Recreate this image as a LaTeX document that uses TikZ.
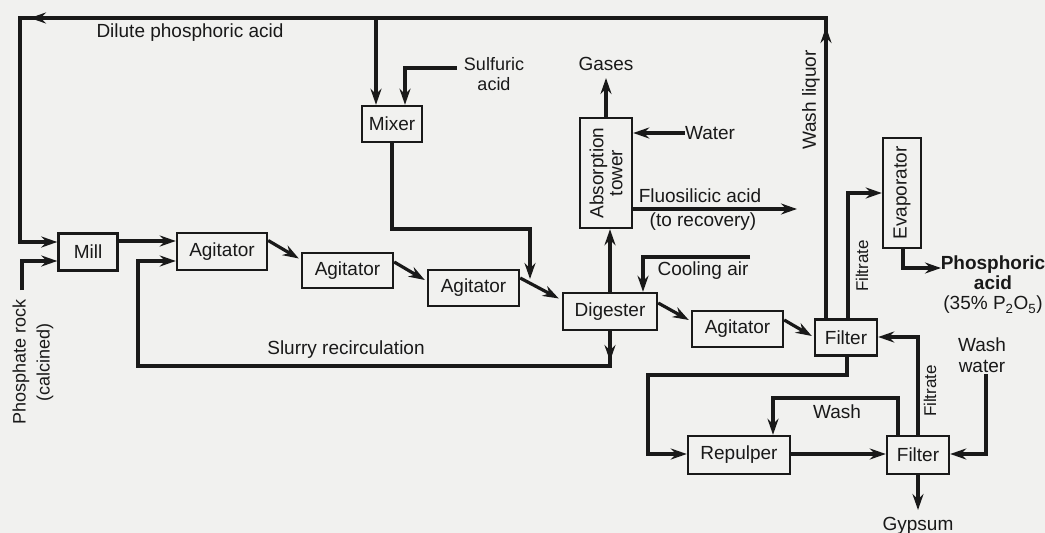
\documentclass[tikz,border=0pt]{standalone}
\usepackage{fontspec}
\setmainfont{Liberation Sans}
\usetikzlibrary{arrows.meta,calc}
\definecolor{bg}{RGB}{241,241,239}
\definecolor{ink}{RGB}{25,25,25}
\begin{document}
\begin{tikzpicture}[x=1pt,y=-1pt,
  font=\fontsize{19}{21}\selectfont,
  box/.style={draw=ink,line width=2.4pt,inner sep=0pt,text=ink},
  ln/.style={draw=ink,line width=3.2pt},
  arr/.style={ln,-{Stealth[length=16pt,width=11pt]}},
  lbl/.style={text=ink,inner sep=0pt,align=center}]
\fill[bg] (0,0) rectangle (1045,533);
\useasboundingbox (0,0) rectangle (1045,533);
% boxes
\node[box,minimum width=59pt,minimum height=37pt] (mill) at (88,252) {Mill};
\node[box,minimum width=90pt,minimum height=37pt] (ag1) at (222,251.5) {Agitator};
\node[box,minimum width=91pt,minimum height=35pt] (ag2) at (347.5,270.5) {Agitator};
\node[box,minimum width=91pt,minimum height=36pt] (ag3) at (473.5,288) {Agitator};
\node[box,minimum width=60pt,minimum height=36pt] (mixer) at (392,124) {Mixer};
\node[box,minimum width=94pt,minimum height=37pt] (dig) at (610,311.5) {Digester};
\node[box,minimum width=110pt,minimum height=52pt,rotate=90,align=center,font=\fontsize{19}{19}\selectfont] (abs) at (606,173) {Absorption\\tower};
\node[box,minimum width=91pt,minimum height=36pt] (ag4) at (737.5,329) {Agitator};
\node[box,minimum width=62pt,minimum height=36pt] (f1) at (846,337.5) {Filter};
\node[box,minimum width=110pt,minimum height=38pt,rotate=90] (evap) at (902,193) {Evaporator};
\node[box,minimum width=102pt,minimum height=38pt] (rep) at (739,455) {Repulper};
\node[box,minimum width=62pt,minimum height=38pt] (f2) at (918,455) {Filter};
% coordinates
\coordinate (wl0) at ($(f1.north)+(-20,0)$);
\coordinate (c1) at (826,18);
\coordinate (c2) at (20,18);
\coordinate (c3) at (20,242);
\coordinate (mx) at (376,18);
% top recycle loop
\draw[arr] (wl0) -- (c1) -- (c2) -- (c3) -- (mill.west |- c3);
\draw[arr] (826,60) -- (826,27);
\draw[arr] (60,18) -- (30,18);
\draw[arr] (mx) -- (mixer.north -| mx);
\node[lbl] (dil) at (190,33) {Dilute phosphoric acid};
\node[lbl,rotate=90] (wlq) at (811,100) {Wash liquor};
% sulfuric acid
\node[lbl,font=\fontsize{18}{20}\selectfont] (sulf) at (494,74) {Sulfuric\\acid};
\coordinate (s1) at (457,68);
\coordinate (s2) at (405,68);
\draw[arr] (s1) -- (s2) -- (mixer.north -| s2);
% mixer to digester feed
\coordinate (m1) at (392,229);
\coordinate (m2) at (530,229);
\coordinate (m3) at (530,279);
\draw[arr] (mixer.south) -- (m1) -- (m2) -- (m3);
% phosphate rock
\coordinate (p1) at (22,290);
\coordinate (p2) at (22,261);
\draw[arr] (p1) -- (p2) -- (mill.west |- p2);
\node[lbl,rotate=90,font=\fontsize{18}{24}\selectfont] (rock) at (33,362) {Phosphate rock\\(calcined)};
% mill to agitator
\coordinate (ma) at (0,241);
\draw[arr] (mill.east |- ma) -- (ag1.west |- ma);
% slurry recirculation
\coordinate (r1) at (610,366);
\coordinate (r2) at (138,366);
\coordinate (r3) at (138,261);
\draw[arr] (dig.south) -- (r1) -- (r2) -- (r3) -- (ag1.west |- r3);
\draw[arr] (610,335) -- (610,361);
\node[lbl] (slurry) at (346,350) {Slurry recirculation};
% agitator chain
\draw[arr] ($(ag1.east)+(0,-11)$) -- ($(ag2.west)+(-2,-12)$);
\draw[arr] ($(ag2.east)+(0,-8.5)$) -- ($(ag3.west)+(-2,-8)$);
\draw[arr] ($(ag3.east)+(0,-10)$) -- ($(dig.west)+(-3,-13)$);
\draw[arr] ($(dig.east)+(0,-8.5)$) -- ($(ag4.west)+(-2,-9)$);
\draw[arr] ($(ag4.east)+(0,-9)$) -- ($(f1.west)+(-2,-1.5)$);
% absorption tower
\draw[arr] (dig.north) -- (dig.north |- abs.west);
\coordinate (g1) at (606,78);
\draw[arr] (abs.east) -- (g1);
\node[lbl] (gases) at (606,64) {Gases};
\node[lbl] (water) at (710,133) {Water};
\draw[arr] (water.west) -- (abs.south |- water.west);
\coordinate (fl) at (797,209);
\draw[arr] (abs.south |- fl) -- (fl);
\node[lbl] (fluo) at (700,196) {Fluosilicic acid};
\node[lbl] (torec) at (703,222) {(to recovery)};
% cooling air
\coordinate (ca1) at (750,257);
\coordinate (ca2) at (643,257);
\draw[arr] (ca1) -- (ca2) -- (dig.north -| ca2);
\node[lbl] (cool) at (703,271) {Cooling air};
% filtrate to evaporator
\coordinate (e1) at ($(f1.north)+(2,0)$);
\coordinate (e2) at (848,193);
\draw[arr] (e1) -- (e2) -- (evap.north |- e2);
\node[lbl,rotate=90,font=\fontsize{17}{19}\selectfont] (filt1) at (862,266) {Filtrate};
% evaporator out
\coordinate (o1) at ($(evap.west)+(0,0)$);
\coordinate (o2) at (903,268);
\coordinate (o3) at (941,268);
\draw[arr] (o1 -| o2) -- (o2) -- (o3);
\node[lbl,anchor=north] (phos) at (993,256) {\textbf{Phosphoric}\\[-1pt]\textbf{acid}\\[-1pt](35\% P\textsubscript{2}O\textsubscript{5})};
% wash water
\node[lbl] (ww) at (982,355) {Wash\\water};
\coordinate (w1) at (986,374);
\coordinate (w2) at (986,454);
\draw[arr] (w1) -- (w2) -- (f2.east |- w2);
% filtrate from filter 2 to filter 1
\coordinate (ff1) at (918,337);
\draw[arr] (f2.north) -- (ff1) -- (f1.east |- ff1);
\node[lbl,rotate=90,font=\fontsize{17}{19}\selectfont] (filt2) at (930,391) {Filtrate};
% wash
\coordinate (wa0) at ($(f2.north)+(-20,0)$);
\coordinate (wa1) at (898,398);
\coordinate (wa2) at (773,398);
\draw[arr] (wa0) -- (wa1) -- (wa2) -- (rep.north -| wa2);
\node[lbl] (wash) at (837,412) {Wash};
% filter 1 cake to repulper
\coordinate (k1) at (847,375);
\coordinate (k2) at (648,375);
\coordinate (k3) at (648,454);
\draw[arr] ($(f1.south)+(1,0)$) -- (k1) -- (k2) -- (k3) -- (rep.west |- k3);
\draw[arr] (rep.east |- k3) -- (f2.west |- k3);
% gypsum
\coordinate (gy) at (918,510);
\draw[arr] (f2.south) -- (gy);
\node[lbl] (gyp) at (918,526) {Gypsum};
\end{tikzpicture}
\end{document}
